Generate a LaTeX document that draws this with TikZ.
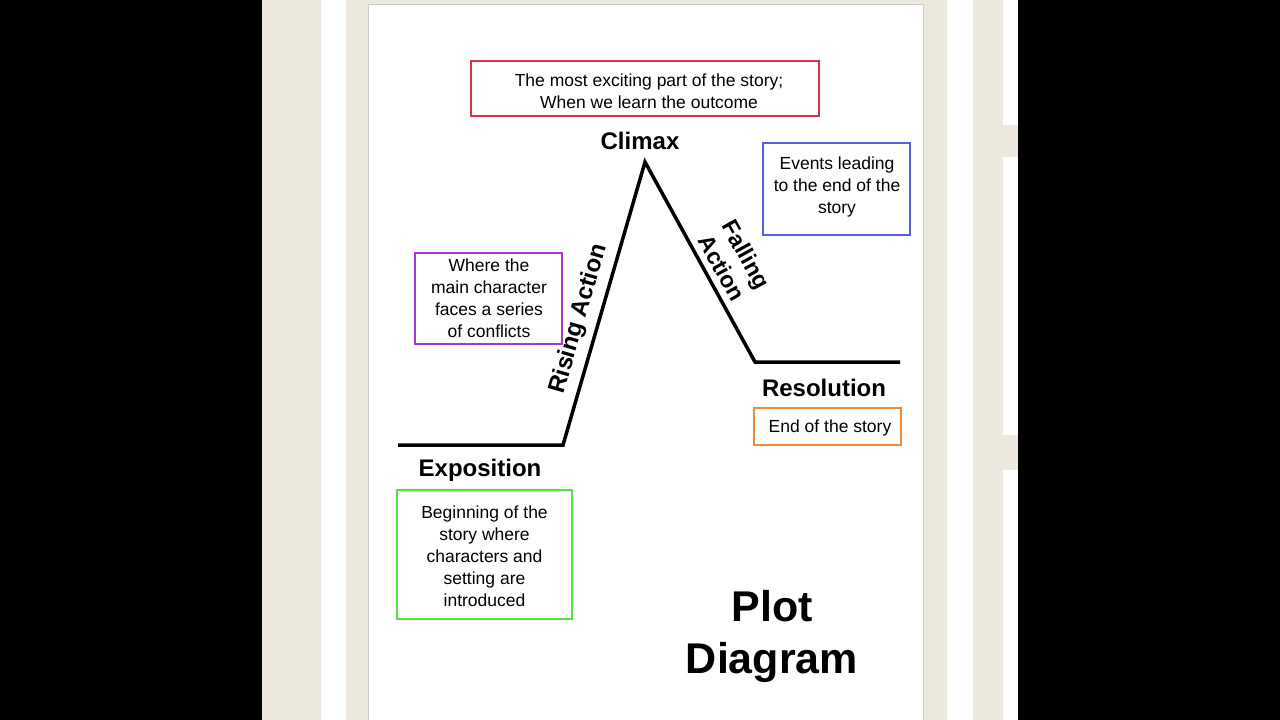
\documentclass[tikz,border=0pt]{standalone}
\usepackage{fontspec}
\setmainfont{Liberation Sans}
\definecolor{beige}{RGB}{236,232,222}
\definecolor{cred}{RGB}{215,50,75}
\definecolor{cblue}{RGB}{90,95,220}
\definecolor{cpurp}{RGB}{165,60,205}
\definecolor{corange}{RGB}{240,140,55}
\definecolor{cgreen}{RGB}{85,225,65}
\begin{document}
\begin{tikzpicture}[x=1pt,y=-1pt,
  box/.style={draw=#1,line width=2pt,inner sep=0pt,align=center,font=\fontsize{17.5}{22}\selectfont},
  ttl/.style={font=\bfseries\fontsize{24}{27}\selectfont},
  plot/.style={line width=3.5pt}]
\useasboundingbox (0,0) rectangle (1280,720);
\fill[black] (0,0) rectangle (1280,720);
\fill[beige] (262,0) rectangle (1018,720);
\fill[white] (321,0) rectangle (346,720);
\fill[white] (947,0) rectangle (973,720);
\fill[white] (1003,0) rectangle (1018,125);
\fill[white] (1003,157) rectangle (1018,435);
\fill[white] (1003,470) rectangle (1018,720);
\fill[white] (368,4) rectangle (923,720);
\draw[gray!40] (368,4) rectangle (923,725);
% boxes
\node[box=cred,minimum width=348,minimum height=55] (clxbox) at (645,88.5) {};
\node[font=\fontsize{17.5}{22}\selectfont,align=center] at (649,91) {The most exciting part of the story;\\When we learn the outcome};
\node[box=cblue,minimum width=147,minimum height=92] (fabox) at (836.5,189) {};
\node[font=\fontsize{17.5}{22}\selectfont,align=center] at (837,187) {Events leading\\to the end of the\\story};
\node[box=cpurp,minimum width=147,minimum height=91] (rabox) at (488.5,298.5) {};
\node[font=\fontsize{17.5}{22}\selectfont,align=center] at (489,298) {Where the\\main character\\faces a series\\of conflicts};
\node[box=corange,minimum width=147,minimum height=37] (resbox) at (827.5,426.5) {};
\node[font=\fontsize{17.5}{22}\selectfont] at (830,428) {End of the story};
\node[box=cgreen,minimum width=175,minimum height=129] (expbox) at (484.5,554.5) {};
\node[font=\fontsize{17.5}{22}\selectfont,align=center] at (484.5,556) {Beginning of the\\story where\\characters and\\setting are\\introduced};
% plot line
\coordinate (a) at (398,445);
\coordinate (b) at (563,445);
\coordinate (c) at (645,162);
\coordinate (d) at (755,362);
\coordinate (e) at (900,362);
\draw[plot,line join=miter] (a) -- (b) -- (c) -- (d) -- (e);
% titles
\node[ttl] (climax) at (640,141) {Climax};
\node[ttl] (resol) at (824,388) {Resolution};
\node[ttl] (expo) at (480,470) {Exposition};
\node[ttl,rotate=73.8] (rising) at (579,319) {Rising Action};
\node[ttl,rotate=-61,align=center,font=\bfseries\fontsize{23}{28}\selectfont] (falling) at (734,261) {Falling\\Action};
\node[font=\bfseries\fontsize{43}{52}\selectfont,align=center] (title) at (772,636) {Plot\\Diagram};
\end{tikzpicture}
\end{document}
